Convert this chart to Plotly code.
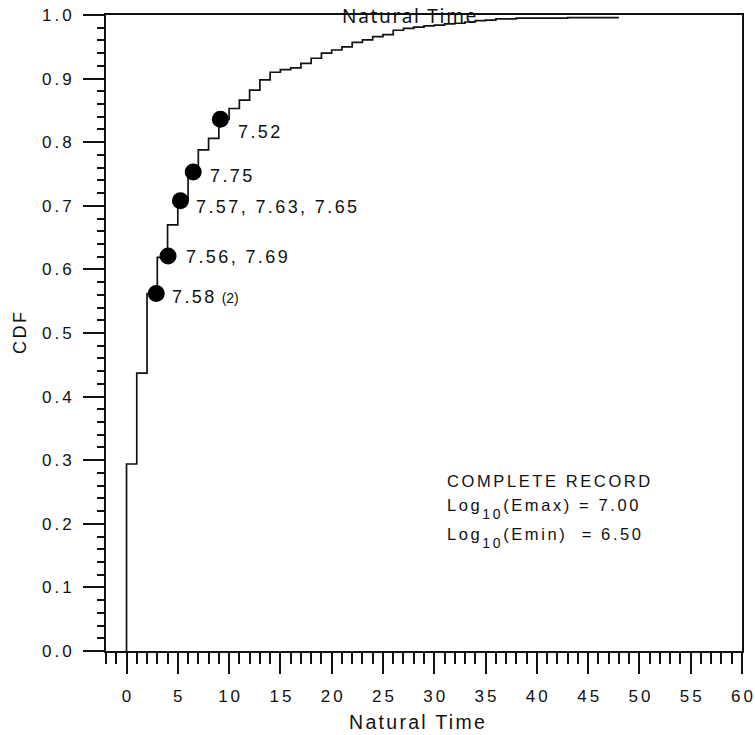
import plotly.graph_objects as go

# Natural-time count n and the empirical CDF level reached at n
natural_time = list(range(48))
cdf = [0.294, 0.437, 0.562, 0.619, 0.670, 0.708, 0.753, 0.788, 0.806, 0.836,
       0.853, 0.866, 0.882, 0.898, 0.910, 0.914, 0.917, 0.924, 0.932, 0.940,
       0.945, 0.950, 0.957, 0.961, 0.966, 0.969, 0.976, 0.979, 0.981, 0.983,
       0.984, 0.986, 0.987, 0.989, 0.991, 0.992, 0.994, 0.994, 0.995, 0.995,
       0.995, 0.995, 0.995, 0.996, 0.996, 0.996, 0.996, 0.996]
record_end = 48

# Large events marked on the CDF and their magnitudes
event_time = [2.9, 4.05, 5.25, 6.5, 9.15]
event_cdf = [0.562, 0.621, 0.708, 0.753, 0.836]
event_mags = ["7.58", "7.56, 7.69", "7.57, 7.63, 7.65", "7.75", "7.52"]
event_count = ["(2)", "", "", "", ""]

x_ticks = list(range(0, 61, 5))
y_ticks = [round(0.1 * i, 1) for i in range(11)]

INK = "#111111"
FONT = "Liberation Sans, Arial, sans-serif"


def spaced(text, px):
    return f"<span style='letter-spacing:{px}px'>{text}</span>"


def tick_label(text, px=3):
    # spacing between characters only, so centring/right alignment stays exact
    return spaced(text[:-1], px) + text[-1]


def log_line(name, value):
    sub = "<span style='font-size:14px;baseline-shift:-8px'>10</span>"
    return spaced(f"Log{sub}({name})", 2.6) + spaced(value, 2.6)


fig = go.Figure()

# stepped CDF: starts at zero and rises at every natural-time count
fig.add_trace(go.Scatter(
    x=[0] + natural_time + [record_end],
    y=[0] + cdf + [cdf[-1]],
    mode="lines",
    line=dict(color=INK, width=1.7, shape="hv"),
    hoverinfo="skip",
    showlegend=False,
))

fig.add_trace(go.Scatter(
    x=event_time, y=event_cdf,
    mode="markers",
    marker=dict(size=17, color="black", line=dict(width=0)),
    showlegend=False,
))

# magnitude labels beside each marker (pixel offsets right / down)
label_dx = [16, 18, 16, 17, 18]
label_dy = [3, 1, 6, 4, 13]
for t, c, mag, cnt, dx, dy in zip(event_time, event_cdf, event_mags,
                                  event_count, label_dx, label_dy):
    txt = spaced(mag, 2.4)
    if cnt:
        txt += f"\u00a0<span style='font-size:14px'>{cnt}</span>"
    fig.add_annotation(
        x=t, y=c, xref="x", yref="y", text=txt,
        showarrow=False, xanchor="left", yanchor="middle",
        xshift=dx, yshift=-dy, borderpad=0, borderwidth=0,
        font=dict(family=FONT, size=18, color=INK),
    )

# record summary
summary = [
    (spaced("COMPLETE RECORD", 2.6), 481.5),
    (log_line("Emax", "\u00a0=\u00a07.00"), 509),
    (log_line("Emin", "\u00a0\u00a0=\u00a06.50"), 538),
]
for txt, ypix in summary:
    fig.add_annotation(
        x=(446.5 - 106) / 636, y=(651 - ypix) / 636, xref="paper", yref="paper",
        text=txt, showarrow=False,
        xanchor="left", yanchor="middle", borderpad=0, borderwidth=0,
        font=dict(family=FONT, size=16.5, color=INK),
    )

# titles
fig.add_annotation(
    x=(410 - 106) / 636, y=(651 - 16) / 636, xref="paper", yref="paper",
    text=spaced("Natural Time", 1.7), showarrow=False,
    xanchor="center", yanchor="middle", borderpad=0, borderwidth=0,
    font=dict(family="Noto Sans, Open Sans, sans-serif", size=19, color=INK),
)
fig.add_annotation(
    x=(418 - 106) / 636, y=(651 - 722) / 636, xref="paper", yref="paper",
    text=spaced("Natural Time", 2.3), showarrow=False,
    xanchor="center", yanchor="middle", borderpad=0, borderwidth=0,
    font=dict(family=FONT, size=19.5, color=INK),
)
fig.add_annotation(
    x=(20 - 106) / 636, y=0.5 + 1 / 636, xref="paper", yref="paper",
    text=spaced("CDF", 2.5), textangle=-90, showarrow=False,
    xanchor="center", yanchor="middle", borderpad=0, borderwidth=0,
    font=dict(family=FONT, size=18, color=INK),
)

axis_common = dict(
    showgrid=False, zeroline=False, showline=True, mirror=True,
    automargin=False,
    linecolor=INK, linewidth=1.7,
    ticks="outside", tickwidth=1.7, tickcolor=INK, ticklen=21,
)

fig.update_xaxes(
    range=[-2, 60], tickmode="linear", tick0=0, dtick=5,
    labelalias={str(v): tick_label(str(v)) for v in x_ticks},
    tickfont=dict(family=FONT, size=17, color=INK),
    ticklabelstandoff=8,
    minor=dict(tickmode="linear", tick0=0, dtick=1, ticks="outside",
               ticklen=11, tickwidth=1.7, tickcolor=INK),
    **axis_common,
)
fig.update_yaxes(
    range=[0, 1], tickmode="linear", tick0=0, dtick=0.1, tickformat=".1f",
    labelalias={f"{v:.1f}": tick_label(f"{v:.1f}") for v in y_ticks},
    tickfont=dict(family=FONT, size=17, color=INK),
    ticklabelstandoff=8,
    minor=dict(tickmode="linear", tick0=0, dtick=0.02, ticks="outside",
               ticklen=7, tickwidth=1.7, tickcolor=INK),
    **axis_common,
)

fig.update_layout(
    template="none",
    width=755, height=735,
    margin=dict(l=106, r=13, t=15, b=84, autoexpand=False),
    paper_bgcolor="white", plot_bgcolor="white",
    font=dict(family=FONT, color=INK),
    showlegend=False,
)

fig.write_html("out.html")
